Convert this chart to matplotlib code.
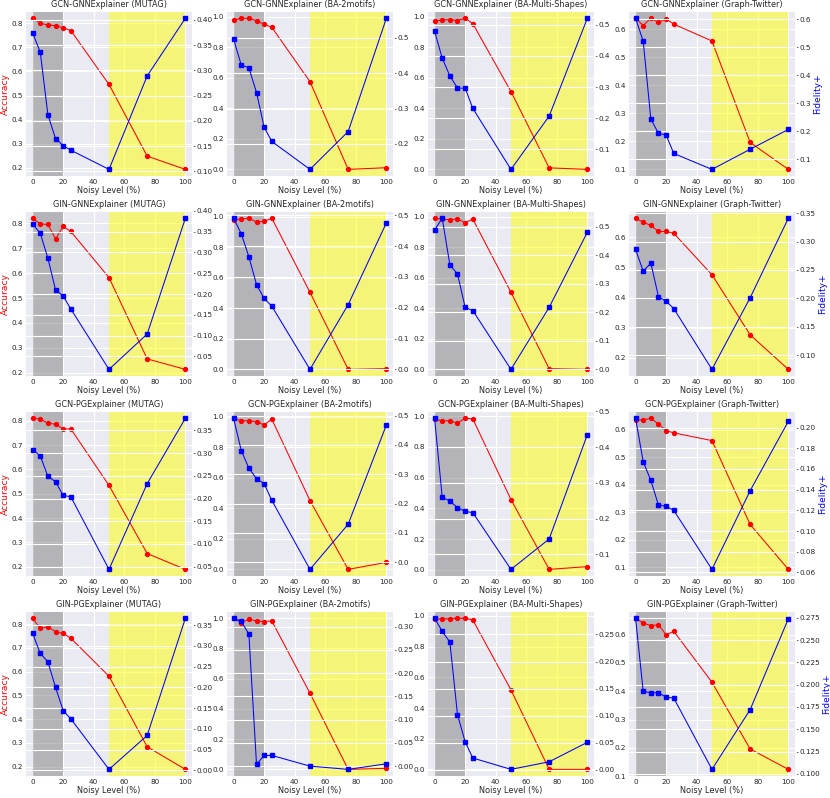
import numpy as np
import seaborn as sns
import matplotlib.pyplot as plt

sns.set_theme(style='darkgrid')
plt.rcParams['font.family'] = ['DejaVu Sans']

noise = [0, 5, 10, 15, 20, 25, 50, 75, 100]
datasets = ['MUTAG', 'BA-2motifs', 'BA-Multi-Shapes', 'Graph-Twitter']
models = ['GCN-GNNExplainer', 'GIN-GNNExplainer', 'GCN-PGExplainer', 'GIN-PGExplainer']

# accuracy per dataset (MUTAG, BA-2motifs, BA-Multi-Shapes, Graph-Twitter)
gcn_gnn_acc = [
    [0.821, 0.800, 0.793, 0.790, 0.781, 0.770, 0.546, 0.248, 0.193],
    [0.978, 0.989, 0.989, 0.972, 0.950, 0.930, 0.574, 0.000, 0.011],
    [0.970, 0.980, 0.980, 0.975, 0.990, 0.955, 0.510, 0.010, 0.000],
    [0.639, 0.613, 0.639, 0.624, 0.637, 0.618, 0.558, 0.196, 0.100],
]
gcn_gnn_fid = [
    [0.374, 0.336, 0.212, 0.165, 0.151, 0.142, 0.104, 0.289, 0.403],
    [0.496, 0.423, 0.415, 0.345, 0.247, 0.207, 0.128, 0.235, 0.555],
    [0.479, 0.393, 0.336, 0.297, 0.297, 0.232, 0.036, 0.207, 0.521],
    [0.604, 0.522, 0.243, 0.192, 0.186, 0.120, 0.063, 0.135, 0.206],
]
gin_gnn_acc = [
    [0.820, 0.797, 0.795, 0.737, 0.787, 0.767, 0.582, 0.256, 0.214],
    [0.980, 0.985, 0.990, 0.965, 0.970, 0.990, 0.505, 0.000, 0.005],
    [0.990, 0.985, 0.980, 0.985, 0.960, 0.985, 0.505, 0.005, 0.000],
    [0.664, 0.651, 0.640, 0.620, 0.620, 0.614, 0.476, 0.276, 0.161],
]
gin_gnn_fid = [
    [0.368, 0.346, 0.286, 0.210, 0.195, 0.164, 0.019, 0.104, 0.382],
    [0.490, 0.440, 0.365, 0.275, 0.230, 0.205, 0.000, 0.210, 0.475],
    [0.488, 0.529, 0.366, 0.334, 0.217, 0.206, 0.000, 0.217, 0.480],
    [0.286, 0.248, 0.262, 0.203, 0.195, 0.182, 0.075, 0.201, 0.341],
]
gcn_pg_acc = [
    [0.810, 0.807, 0.789, 0.786, 0.766, 0.766, 0.534, 0.254, 0.189],
    [0.989, 0.972, 0.972, 0.967, 0.945, 0.983, 0.450, 0.000, 0.046],
    [0.983, 0.968, 0.972, 0.955, 0.987, 0.983, 0.458, 0.004, 0.022],
    [0.635, 0.635, 0.641, 0.620, 0.596, 0.588, 0.560, 0.256, 0.093],
]
gcn_pg_fid = [
    [0.308, 0.294, 0.249, 0.237, 0.207, 0.204, 0.044, 0.233, 0.377],
    [0.491, 0.381, 0.321, 0.285, 0.268, 0.211, -0.024, 0.130, 0.468],
    [0.481, 0.260, 0.249, 0.231, 0.220, 0.217, 0.058, 0.143, 0.435],
    [0.209, 0.167, 0.149, 0.125, 0.124, 0.120, 0.063, 0.139, 0.206],
]
gin_pg_acc = [
    [0.825, 0.782, 0.789, 0.768, 0.761, 0.741, 0.581, 0.284, 0.189],
    [1.000, 0.971, 0.993, 0.982, 0.978, 0.982, 0.504, 0.000, 0.007],
    [0.983, 0.978, 0.983, 0.985, 0.985, 0.974, 0.518, 0.000, 0.000],
    [0.658, 0.641, 0.632, 0.635, 0.599, 0.612, 0.432, 0.196, 0.124],
]
gin_pg_fid = [
    [0.331, 0.282, 0.262, 0.200, 0.144, 0.124, 0.002, 0.084, 0.367],
    [0.318, 0.311, 0.284, 0.004, 0.023, 0.023, 0.000, -0.007, 0.005],
    [0.280, 0.256, 0.236, 0.102, 0.052, 0.022, 0.001, 0.015, 0.051],
    [0.2746, 0.1925, 0.191, 0.191, 0.186, 0.185, 0.105, 0.172, 0.274],
]

acc_all = [gcn_gnn_acc, gin_gnn_acc, gcn_pg_acc, gin_pg_acc]
fid_all = [gcn_gnn_fid, gin_gnn_fid, gcn_pg_fid, gin_pg_fid]

fig, axes = plt.subplots(4, 4, figsize=(8.3, 7.98), dpi=100)
plt.subplots_adjust(left=0.0301, right=0.959, top=0.9866, bottom=0.0264,
                    wspace=0.196, hspace=0.203)

for r in range(4):
    for c in range(4):
        ax = axes[r, c]
        ax.axvspan(0, 20, color='gray', alpha=0.5, lw=0)
        ax.axvspan(50, 100, color='yellow', alpha=0.5, lw=0)
        ax.plot(noise, acc_all[r][c], color='red', marker='o', ms=2.8, lw=0.75)
        ax2 = ax.twinx()
        ax2.plot(noise, fid_all[r][c], color='blue', marker='s', ms=2.8, lw=0.75)
        ax.set_title(models[r] + ' (' + datasets[c] + ')', fontsize=5.9, pad=2.5)
        ax.set_xlabel('Noisy Level (%)', fontsize=5.9, labelpad=0.5)
        ax.set_xticks([0, 20, 40, 60, 80, 100])
        ax.tick_params(labelsize=5.2, pad=1.5, length=0)
        ax2.tick_params(labelsize=5.2, pad=1.2, length=1.5, width=0.5)
        ax.grid(lw=0.8)
        ax2.grid(lw=0.8)
        if c == 0:
            ax.set_ylabel('Accuracy', color='red', fontsize=6.6, labelpad=1.2)
        if c == 3:
            ax2.set_ylabel('Fidelity+', color='blue', fontsize=6.6, labelpad=1.5)

plt.savefig('out.png')
